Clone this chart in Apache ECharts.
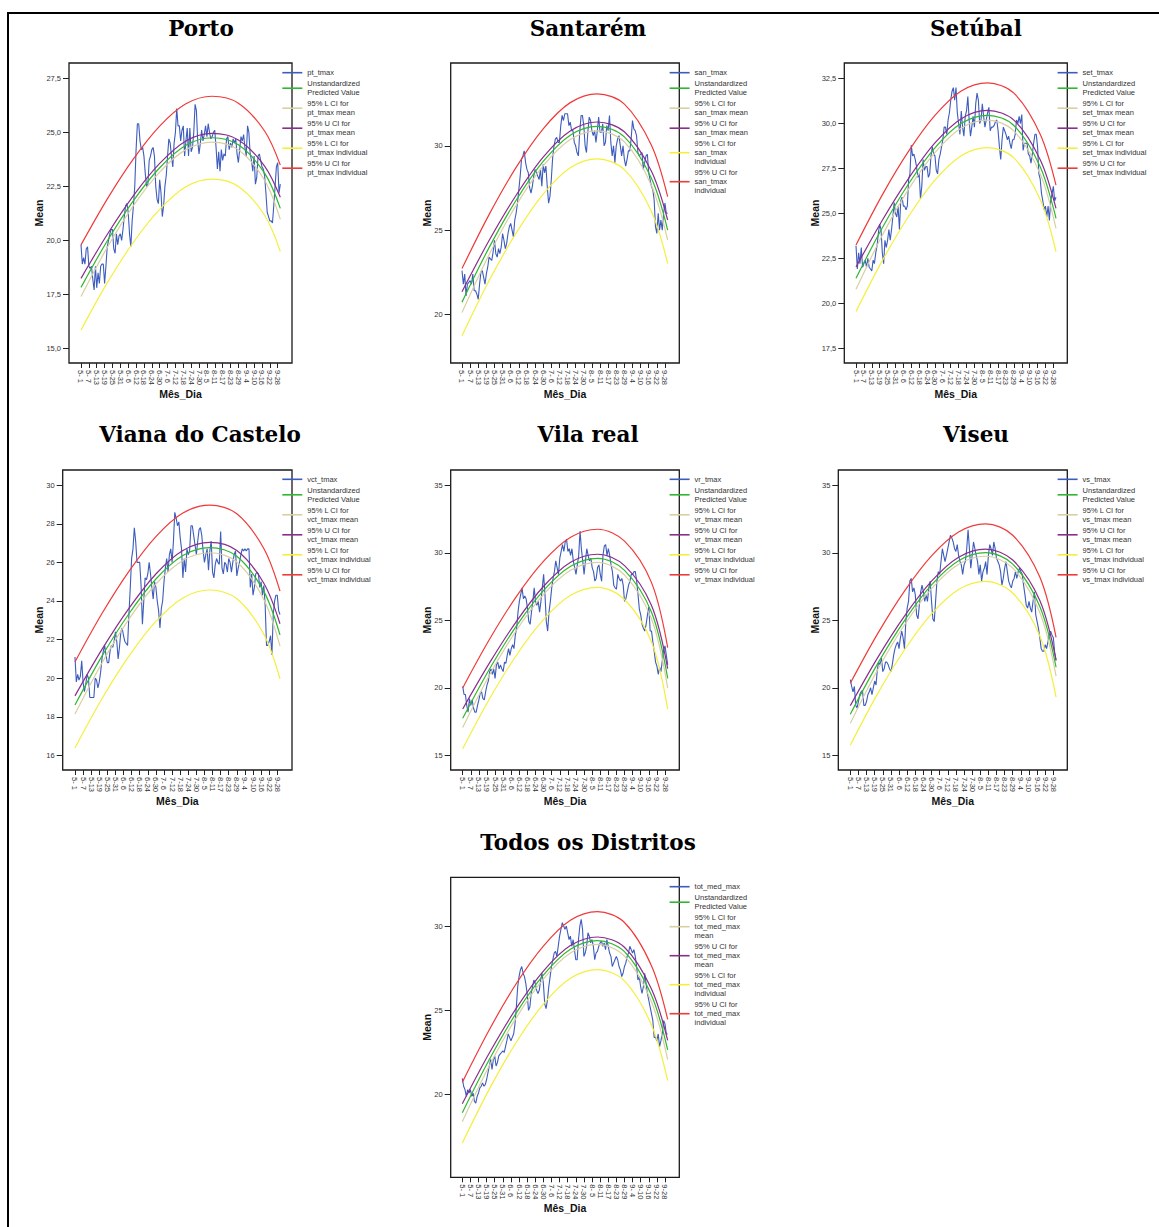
<!DOCTYPE html>
<html><head><meta charset="utf-8">
<script src="https://cdn.jsdelivr.net/npm/echarts@6/dist/echarts.min.js"></script>
<style>html,body{margin:0;padding:0;background:#fff}#c{width:1159px;height:1227px}</style>
</head><body><div id="c"></div>
<script>
// ---- x axis (day index 0 = 1 May) ----
const xTickDays = [0,6,12,18,24,30,36,42,48,54,60,66,72,78,84,90,96,102,108,114,120,126,132,138,144,150];
const xTickLabels = ["5- 1","5- 7","5-13","5-19","5-25","5-31","6- 6","6-12","6-18","6-24","6-30","7- 6","7-12","7-18","7-24","7-30","8- 5","8-11","8-17","8-23","8-29","9- 4","9-10","9-16","9-22","9-28"];
const curveDays = [0,20,40,60,80,100,120,140,152];

// ---- titles ----
const chartTitles = ["Porto","Santarém","Setúbal","Viana do Castelo","Vila real","Viseu","Todos os Distritos"];

// ---- y ticks ----
const yTicksPorto = [15,17.5,20,22.5,25,27.5];
const yTicksSantarem = [20,25,30];
const yTicksSetubal = [17.5,20,22.5,25,27.5,30,32.5];
const yTicksViana = [16,18,20,22,24,26,28,30];
const yTicksVilaReal = [15,20,25,30,35];
const yTicksViseu = [15,20,25,30,35];
const yTicksTodos = [20,25,30];

// ---- legend names ----
const namesPorto = ["pt_tmax","Unstandardized\nPredicted Value","95% L CI for\npt_tmax mean","95% U CI for\npt_tmax mean","95% L CI for\npt_tmax individual","95% U CI for\npt_tmax individual"];
const namesSantarem = ["san_tmax","Unstandardized\nPredicted Value","95% L CI for\nsan_tmax mean","95% U CI for\nsan_tmax mean","95% L CI for\nsan_tmax\nindividual","95% U CI for\nsan_tmax\nindividual"];
const namesSetubal = ["set_tmax","Unstandardized\nPredicted Value","95% L CI for\nset_tmax mean","95% U CI for\nset_tmax mean","95% L CI for\nset_tmax individual","95% U CI for\nset_tmax individual"];
const namesViana = ["vct_tmax","Unstandardized\nPredicted Value","95% L CI for\nvct_tmax mean","95% U CI for\nvct_tmax mean","95% L CI for\nvct_tmax individual","95% U CI for\nvct_tmax individual"];
const namesVilaReal = ["vr_tmax","Unstandardized\nPredicted Value","95% L CI for\nvr_tmax mean","95% U CI for\nvr_tmax mean","95% L CI for\nvr_tmax individual","95% U CI for\nvr_tmax individual"];
const namesViseu = ["vs_tmax","Unstandardized\nPredicted Value","95% L CI for\nvs_tmax mean","95% U CI for\nvs_tmax mean","95% L CI for\nvs_tmax individual","95% U CI for\nvs_tmax individual"];
const namesTodos = ["tot_med_max","Unstandardized\nPredicted Value","95% L CI for\ntot_med_max\nmean","95% U CI for\ntot_med_max\nmean","95% L CI for\ntot_med_max\nindividual","95% U CI for\ntot_med_max\nindividual"];

// ---- observed daily means (1 May .. 30 Sep) ----
const obsPorto = [
19.8,18.9,19.2,18.9,19.6,19.7,18.8,18.7,18.8,18.2,
17.7,18.8,17.8,18.5,18.0,18.8,18.9,18.9,18.0,18.8,
19.7,20.0,20.3,20.5,20.5,19.6,19.4,20.3,19.8,20.2,
20.3,20.0,20.5,21.1,21.6,21.7,21.3,20.3,19.7,20.9,
21.6,22.5,24.2,25.4,25.4,24.6,24.2,24.3,23.9,23.1,
22.5,22.6,23.7,23.9,24.2,24.3,23.9,22.5,21.9,21.7,
22.8,22.2,21.1,21.6,22.5,23.0,23.9,24.7,24.5,23.9,
23.4,24.5,25.0,26.1,25.3,25.3,24.6,25.1,25.3,23.9,
24.6,25.2,23.9,25.2,24.1,24.3,25.0,26.3,26.0,24.6,
24.0,24.5,25.1,24.6,24.9,25.3,24.8,25.4,25.0,24.7,
24.8,25.0,25.1,24.3,23.3,24.1,23.2,24.2,23.7,24.0,
23.9,24.7,24.8,24.2,24.5,24.3,24.7,24.5,24.7,24.0,
23.6,24.2,24.8,24.6,24.9,24.3,23.9,25.3,25.0,24.0,
23.7,23.2,23.9,22.6,22.9,23.9,24.0,23.7,23.4,23.3,
23.0,22.2,21.3,21.1,20.9,20.9,20.8,21.6,22.5,23.4,
23.6,22.2,22.6];
const obsSantarem = [
22.6,21.8,22.4,21.1,21.8,21.9,22.0,21.8,22.4,21.4,
21.4,21.2,20.9,21.8,22.5,22.6,22.2,21.8,22.4,22.8,
23.4,23.3,23.2,23.7,24.4,23.6,23.4,23.9,23.6,24.0,
24.8,24.4,23.9,24.2,24.8,25.2,25.4,25.0,24.6,25.6,
26.0,26.6,27.4,28.2,29.2,29.4,29.7,29.0,28.6,28.4,
27.5,27.2,27.6,28.2,28.6,28.4,28.2,28.0,28.6,27.6,
28.9,28.4,28.8,27.6,26.6,27.0,28.0,29.3,30.0,30.4,
30.5,30.2,30.2,31.2,31.8,31.5,31.9,31.9,31.9,31.2,
31.4,30.9,30.9,30.2,30.0,29.6,29.4,30.8,31.8,31.8,
31.2,30.0,29.6,30.8,31.7,31.5,30.9,30.6,30.9,30.2,
30.9,31.7,30.8,30.8,31.3,30.0,30.2,31.2,30.9,31.8,
30.2,29.4,30.0,29.0,30.0,30.4,30.6,30.0,29.4,30.0,
29.2,28.8,29.2,29.7,29.7,30.4,31.5,31.0,30.9,30.6,
29.6,29.4,29.5,29.6,28.6,29.0,29.4,29.5,28.4,28.0,
27.6,27.4,26.8,25.2,24.8,26.0,25.0,25.6,25.0,26.0,
26.6,26.0,26.0];
const obsSetubal = [
23.2,21.9,22.8,22.2,23.1,22.0,22.2,22.4,22.0,22.5,
22.0,21.9,21.8,22.4,22.2,22.8,23.2,23.9,24.4,24.1,
22.8,22.2,23.5,23.1,23.5,24.1,23.5,24.1,24.8,25.6,
25.0,24.8,25.4,24.1,25.7,25.9,25.4,25.4,25.2,25.4,
26.9,27.2,28.8,28.2,28.3,28.0,27.6,27.0,27.2,25.8,
26.5,28.0,27.4,27.6,27.6,27.0,27.2,28.2,28.7,28.3,
28.2,27.4,27.2,28.0,28.3,28.7,29.1,29.8,29.8,29.4,
30.2,30.6,31.3,31.8,32.0,31.3,32.0,30.6,30.0,29.4,
30.7,29.8,29.3,30.4,30.7,31.5,30.2,29.3,29.8,30.4,
29.8,31.1,31.7,31.3,30.0,30.2,31.1,30.4,29.8,30.2,
30.6,30.9,29.6,29.8,29.8,29.9,30.1,30.2,29.6,28.7,
28.0,29.1,29.8,29.6,29.4,29.1,29.3,28.9,28.6,29.1,
29.1,29.4,30.2,30.0,30.4,30.0,30.5,28.5,28.9,28.9,
28.9,28.3,28.2,27.8,28.3,28.9,29.4,29.4,28.7,27.2,
26.9,26.1,25.7,25.2,25.4,24.8,25.4,24.6,25.7,26.1,
26.5,25.7,25.9];
const obsViana = [
21.1,19.8,20.2,19.9,20.1,20.9,19.8,19.3,19.7,20.2,
20.0,19.0,19.0,19.0,19.0,20.0,19.9,19.5,19.8,20.3,
21.0,21.4,21.7,21.2,20.8,20.8,21.4,21.7,21.6,21.9,
22.4,21.9,21.0,21.6,22.4,22.6,22.2,21.9,21.8,21.7,
23.3,24.7,26.2,26.7,27.8,27.1,26.0,26.0,26.0,24.8,
22.8,24.0,25.2,25.1,25.4,26.0,25.4,24.7,24.1,25.0,
24.7,24.0,23.5,22.6,23.6,24.0,25.0,25.7,26.2,25.5,
26.4,26.7,26.0,27.1,28.6,28.3,27.9,28.1,27.3,26.7,
25.2,26.2,25.5,26.7,26.4,26.6,27.9,27.9,27.4,26.9,
26.4,27.1,27.7,27.8,27.4,26.6,26.0,26.4,26.7,25.6,
26.6,27.1,25.5,25.2,25.9,26.2,26.0,25.9,27.6,25.7,
25.4,26.0,25.9,25.5,26.2,26.0,25.5,26.0,26.4,26.6,
25.3,25.7,26.0,26.4,26.7,26.6,26.7,26.6,26.7,26.7,
24.7,25.4,24.3,24.7,25.4,25.5,25.4,24.7,25.0,24.3,
24.8,23.8,21.7,21.7,21.9,22.2,21.2,23.3,24.0,24.3,
24.3,23.5,23.3];
const obsVilaReal = [
20.1,19.5,19.5,18.7,18.2,19.2,18.7,19.1,18.5,18.2,
18.2,18.7,19.1,19.6,19.7,19.2,19.1,19.7,20.2,20.5,
21.2,21.4,21.0,21.4,20.7,21.7,21.9,21.4,21.7,21.4,
21.2,21.9,21.8,22.4,22.9,22.4,22.9,23.2,22.9,23.9,
24.4,25.6,26.4,26.9,27.4,26.6,26.8,26.6,25.9,24.9,
24.7,25.6,26.4,27.4,26.4,26.1,26.4,25.6,26.4,27.4,
28.4,26.9,24.9,24.2,25.6,26.4,27.4,28.1,28.6,29.4,
28.9,28.4,29.6,30.1,30.6,30.1,30.8,31.0,30.1,30.3,
29.8,30.3,29.4,28.9,28.4,29.1,29.8,31.6,30.3,29.4,
28.4,29.4,30.3,29.8,29.4,29.6,28.9,28.6,27.9,28.1,
28.9,29.1,28.4,27.9,29.8,30.5,30.6,29.8,30.3,29.8,
29.1,28.6,27.6,27.4,27.3,28.4,28.1,27.9,28.1,27.6,
26.4,26.6,27.1,27.6,27.9,28.4,28.4,28.6,28.6,27.9,
26.9,25.8,25.4,24.7,24.4,24.2,24.7,25.4,26.0,24.2,
24.2,23.4,22.7,21.9,21.6,21.0,21.5,21.2,22.0,22.8,
23.1,22.4,21.7];
const obsViseu = [
20.6,20.1,19.7,20.1,18.7,18.5,19.0,19.5,19.7,19.8,
18.7,18.7,19.0,19.5,19.7,20.0,19.5,20.0,20.5,20.2,
21.4,21.9,21.7,22.2,21.2,21.4,21.9,21.9,21.7,21.4,
21.2,21.7,22.4,22.9,23.2,23.4,22.9,23.7,24.2,23.7,
22.9,24.9,25.9,26.4,27.9,28.1,27.1,27.4,26.9,25.4,
25.1,26.1,27.1,27.6,27.1,26.4,26.9,26.4,27.4,27.9,
26.4,25.1,24.9,26.4,27.9,28.6,28.4,29.35,30.3,29.8,
29.35,29.8,30.3,30.8,31.3,31.1,30.8,30.3,30.1,30.6,
29.8,29.35,29.1,28.4,29.1,29.35,30.3,31.7,30.3,28.85,
29.8,30.8,30.3,29.8,29.35,28.4,29.1,27.9,28.6,28.85,
29.35,28.4,29.8,30.6,30.3,29.8,30.8,30.3,29.6,29.35,
29.1,28.6,27.6,28.1,28.85,29.35,28.6,27.9,27.6,27.4,
27.9,28.1,28.6,28.1,28.6,28.85,28.6,28.4,27.6,26.9,
26.1,25.9,26.4,25.9,25.6,26.4,27.1,25.4,24.9,24.4,
23.7,22.9,22.7,22.7,23.2,22.9,23.4,23.9,24.2,23.9,
23.7,22.6,22.0];
const obsTodos = [
20.97,20.5,20.3,19.9,20.3,20.1,20.3,19.9,20.1,19.6,
19.5,19.9,20.1,20.4,20.5,20.7,20.5,20.6,20.9,21.3,
21.7,22.1,21.5,22.1,22.3,21.7,21.9,22.3,22.4,22.5,
22.6,22.5,22.85,23.2,23.6,23.4,23.2,23.4,23.6,24.2,
25.2,26.4,27.0,27.4,27.6,27.2,27.0,26.6,26.0,25.0,
25.2,26.0,26.4,26.8,26.6,26.2,26.0,26.2,26.8,27.2,
26.6,25.4,25.1,25.6,26.4,27.0,27.6,28.0,28.4,28.5,
28.2,28.8,29.4,29.8,30.2,30.0,29.8,30.0,29.6,29.2,
29.4,28.8,29.2,28.6,28.0,28.0,29.2,30.0,30.4,29.8,
28.2,28.4,28.8,29.6,29.4,29.0,29.2,28.8,28.0,28.4,
28.5,28.8,29.0,29.1,28.8,29.0,28.6,29.2,28.8,28.4,
28.2,27.6,27.8,28.0,28.2,28.0,27.6,27.4,27.0,27.2,
27.6,27.8,28.2,28.4,28.8,28.6,28.4,28.6,28.2,27.6,
26.8,27.0,26.4,26.0,26.4,27.2,26.6,26.0,25.6,25.2,
24.8,24.4,23.4,23.4,23.2,23.6,22.85,23.2,23.6,24.4,
24.2,23.6,23.6];

// ---- fitted curves, read at curveDays ----
const predPorto  = [17.82,19.97,21.84,23.36,24.40,24.75,24.42,23.11,21.48];
const lMeanPorto = [17.40,19.67,21.61,23.16,24.20,24.55,24.19,22.78,20.97];
const uMeanPorto = [18.24,20.27,22.07,23.56,24.60,24.95,24.65,23.44,21.99];
const lIndPorto  = [15.85,18.03,19.91,21.43,22.48,22.83,22.49,21.16,19.48];
const uIndPorto  = [19.79,21.91,23.77,25.29,26.32,26.67,26.35,25.06,23.48];

const predSantarem  = [20.73,23.96,26.77,29.07,30.63,31.15,30.53,28.07,25.00];
const lMeanSantarem = [20.11,23.54,26.47,28.81,30.38,30.89,30.23,27.65,24.40];
const uMeanSantarem = [21.35,24.38,27.07,29.33,30.88,31.41,30.83,28.49,25.60];
const lIndSantarem  = [18.74,22.00,24.82,27.13,28.70,29.22,28.59,26.11,23.02];
const uIndSantarem  = [22.72,25.92,28.72,31.01,32.56,33.08,32.47,30.03,26.98];

const predSetubal  = [21.39,24.20,26.65,28.65,30.01,30.46,29.89,27.59,24.72];
const lMeanSetubal = [20.77,23.78,26.35,28.38,29.75,30.19,29.59,27.19,24.16];
const uMeanSetubal = [22.01,24.62,26.95,28.92,30.27,30.73,30.19,27.99,25.28];
const lIndSetubal  = [19.54,22.37,24.84,26.85,28.21,28.66,28.09,25.77,22.87];
const uIndSetubal  = [23.24,26.03,28.46,30.45,31.81,32.26,31.69,29.41,26.57];

const predViana  = [18.61,21.14,23.34,25.14,26.36,26.77,26.32,24.50,22.24];
const lMeanViana = [18.14,20.79,23.06,24.88,26.10,26.50,26.02,24.08,21.66];
const uMeanViana = [19.08,21.49,23.62,25.40,26.62,27.04,26.62,24.92,22.82];
const lIndViana  = [16.38,18.93,21.14,22.94,24.16,24.57,24.12,22.28,19.97];
const uIndViana  = [20.84,23.35,25.54,27.34,28.56,28.97,28.52,26.72,24.51];

const predVilaReal  = [17.74,21.41,24.61,27.22,29.00,29.59,28.70,25.59,20.70];
const lMeanVilaReal = [17.05,20.96,24.28,26.92,28.70,29.29,28.35,25.09,19.98];
const uMeanVilaReal = [18.43,21.86,24.94,27.52,29.30,29.89,29.05,26.09,21.42];
const lIndVilaReal  = [15.49,19.21,22.43,25.06,26.85,27.44,26.54,23.39,18.42];
const uIndVilaReal  = [19.99,23.61,26.79,29.38,31.15,31.74,30.86,27.79,22.98];

const predViseu  = [18.04,21.75,24.98,27.62,29.41,30.01,29.16,26.02,21.52];
const lMeanViseu = [17.37,21.30,24.65,27.34,29.15,29.74,28.86,25.57,20.86];
const uMeanViseu = [18.68,22.20,25.31,27.90,29.67,30.27,29.46,26.47,22.06];
const lIndViseu  = [15.75,19.53,22.80,25.47,27.28,27.88,27.02,23.84,19.30];
const uIndViseu  = [20.33,23.97,27.16,29.77,31.54,32.14,31.30,28.20,23.74];

const predTodos  = [18.93,22.09,24.85,27.09,28.62,29.13,28.48,25.89,22.65];
const lMeanTodos = [18.40,21.71,24.57,26.85,28.40,28.91,28.22,25.51,22.08];
const uMeanTodos = [19.46,22.47,25.13,27.33,28.84,29.35,28.74,26.27,23.22];
const lIndTodos  = [17.13,20.33,23.11,25.37,26.90,27.41,26.75,24.13,20.83];
const uIndTodos  = [20.73,23.85,26.59,28.81,30.34,30.85,30.21,27.65,24.47];

// ---- assembly ----
const panels = [
  {names:namesPorto, obs:obsPorto, curves:[predPorto,lMeanPorto,uMeanPorto,lIndPorto,uIndPorto], yTicks:yTicksPorto, dec:1},
  {names:namesSantarem, obs:obsSantarem, curves:[predSantarem,lMeanSantarem,uMeanSantarem,lIndSantarem,uIndSantarem], yTicks:yTicksSantarem, dec:0},
  {names:namesSetubal, obs:obsSetubal, curves:[predSetubal,lMeanSetubal,uMeanSetubal,lIndSetubal,uIndSetubal], yTicks:yTicksSetubal, dec:1},
  {names:namesViana, obs:obsViana, curves:[predViana,lMeanViana,uMeanViana,lIndViana,uIndViana], yTicks:yTicksViana, dec:0},
  {names:namesVilaReal, obs:obsVilaReal, curves:[predVilaReal,lMeanVilaReal,uMeanVilaReal,lIndVilaReal,uIndVilaReal], yTicks:yTicksVilaReal, dec:0},
  {names:namesViseu, obs:obsViseu, curves:[predViseu,lMeanViseu,uMeanViseu,lIndViseu,uIndViseu], yTicks:yTicksViseu, dec:0},
  {names:namesTodos, obs:obsTodos, curves:[predTodos,lMeanTodos,uMeanTodos,lIndTodos,uIndTodos], yTicks:yTicksTodos, dec:0}
];

// layout (pixels)
const layout = [
  {box:[69,63,292,363],        xr:[-9.15,160.9], yr:[14.32,28.21], title:[201,28],  meanX:39.3,  legTop:68.2},
  {box:[450.7,63,679.3,363],   xr:[-8.35,160.6], yr:[17.12,34.91], title:[588,28],  meanX:427.3, legTop:68.2},
  {box:[844.3,63,1067.3,363],  xr:[-8.9,160.6],  yr:[16.67,33.37], title:[976,28],  meanX:815,   legTop:68.2},
  {box:[62.7,470,292,770],     xr:[-9.1,160.9],  yr:[15.24,30.79], title:[200,434], meanX:39.3,  legTop:474.8},
  {box:[450.7,470,679.3,770],  xr:[-8.9,160.6],  yr:[13.91,36.13], title:[588,434], meanX:427.3, legTop:474.8},
  {box:[838.3,470,1067.3,770], xr:[-8.87,160.3], yr:[13.91,36.13], title:[976,434], meanX:815,   legTop:474.8},
  {box:[450.7,877.3,679.3,1177.3], xr:[-8.58,160.6], yr:[15.10,32.89], title:[588,842], meanX:427.3, legTop:882.2}
];

const colBlue='#3d5cbd', colGreen='#2fb82f', colBeige='#d8cfa2', colPurple='#8a2d8c', colYellow='#f4ef3c', colRed='#f03a3a';
const curveColors = [colGreen, colBeige, colPurple, colYellow, colRed];
const sansFont = '"Liberation Sans", Arial, sans-serif';

const grids=[], xAxes=[], yAxes=[], series=[], legends=[], graphics=[];

graphics.push({type:'line', shape:{x1:7,y1:13,x2:1159,y2:13}, style:{stroke:'#000', lineWidth:2}, silent:true});
graphics.push({type:'line', shape:{x1:8,y1:12,x2:8,y2:1227}, style:{stroke:'#000', lineWidth:2}, silent:true});

panels.forEach((p, i) => {
  const L = layout[i];
  const [x0,y0,x1,y1] = L.box;
  grids.push({left:x0, top:y0, width:x1-x0, height:y1-y0, show:true, borderColor:'#1a1a1a', borderWidth:1.3, backgroundColor:'#fff', containLabel:false, outerBoundsMode:'none'});
  xAxes.push({
    type:'value', gridIndex:i, min:L.xr[0], max:L.xr[1], position:'bottom',
    axisLine:{show:false, onZero:false}, splitLine:{show:false},
    axisTick:{show:true, inside:false, length:5, customValues:xTickDays, lineStyle:{color:'#222', width:1}},
    axisLabel:{show:true, customValues:xTickDays, rotate:-90, margin:7, fontSize:7.5, color:'#333', fontFamily:sansFont,
      showMinLabel:true, showMaxLabel:true, hideOverlap:false,
      formatter:(v)=>{const k=xTickDays.indexOf(Math.round(v)); return k>=0?xTickLabels[k]:'';}}
  });
  yAxes.push({
    type:'value', gridIndex:i, min:L.yr[0], max:L.yr[1], position:'left',
    axisLine:{show:false, onZero:false}, splitLine:{show:false},
    axisTick:{show:true, inside:false, length:6, customValues:p.yTicks, lineStyle:{color:'#222', width:1}},
    axisLabel:{show:true, customValues:p.yTicks, margin:8, fontSize:7.5, color:'#333', fontFamily:sansFont,
      showMinLabel:true, showMaxLabel:true,
      formatter:(v)=> p.dec ? v.toFixed(1).replace('.', ',') : String(Math.round(v))}
  });
  series.push({type:'line', name:p.names[0], xAxisIndex:i, yAxisIndex:i, data:p.obs.map((v,k)=>[k,v]),
    symbol:'none', showSymbol:false, color:colBlue, lineStyle:{color:colBlue, width:1.1}, itemStyle:{color:colBlue},
    animation:false, silent:true, z:2});
  p.curves.forEach((arr, c) => {
    series.push({type:'line', name:p.names[c+1], xAxisIndex:i, yAxisIndex:i, data:curveDays.map((d,k)=>[d,arr[k]]),
      symbol:'none', showSymbol:false, smooth:0.33, smoothConstraint:false, color:curveColors[c],
      lineStyle:{color:curveColors[c], width:1.2}, itemStyle:{color:curveColors[c]}, animation:false, silent:true, z:3+c});
  });
  legends.push({
    data:p.names, orient:'vertical', left:x1-9.7, top:L.legTop, padding:0, itemGap:2,
    itemWidth:20, itemHeight:1.6, icon:'rect', selectedMode:false,
    textStyle:{fontSize:7.5, lineHeight:9, color:'#333', fontFamily:sansFont}
  });
  graphics.push({type:'text', x:L.title[0], y:L.title[1], silent:true,
    style:{text:chartTitles[i], align:'center', verticalAlign:'middle', fill:'#000', font:'bold 21.5px "DejaVu Serif", serif'}});
  graphics.push({type:'text', x:(x0+x1)/2, y:y1+30.5, silent:true,
    style:{text:'Mês_Dia', align:'center', verticalAlign:'middle', fill:'#111', font:'bold 10.5px ' + sansFont}});
  graphics.push({type:'text', x:L.meanX, y:(y0+y1)/2, rotation:Math.PI/2, silent:true,
    style:{text:'Mean', align:'center', verticalAlign:'middle', fill:'#111', font:'bold 10.5px ' + sansFont}});
});

const chart = echarts.init(document.getElementById('c'), null, {renderer:'svg'});
chart.setOption({
  animation:false, backgroundColor:'#fff',
  grid:grids, xAxis:xAxes, yAxis:yAxes, series:series, legend:legends, graphic:graphics
});
</script></body></html>
